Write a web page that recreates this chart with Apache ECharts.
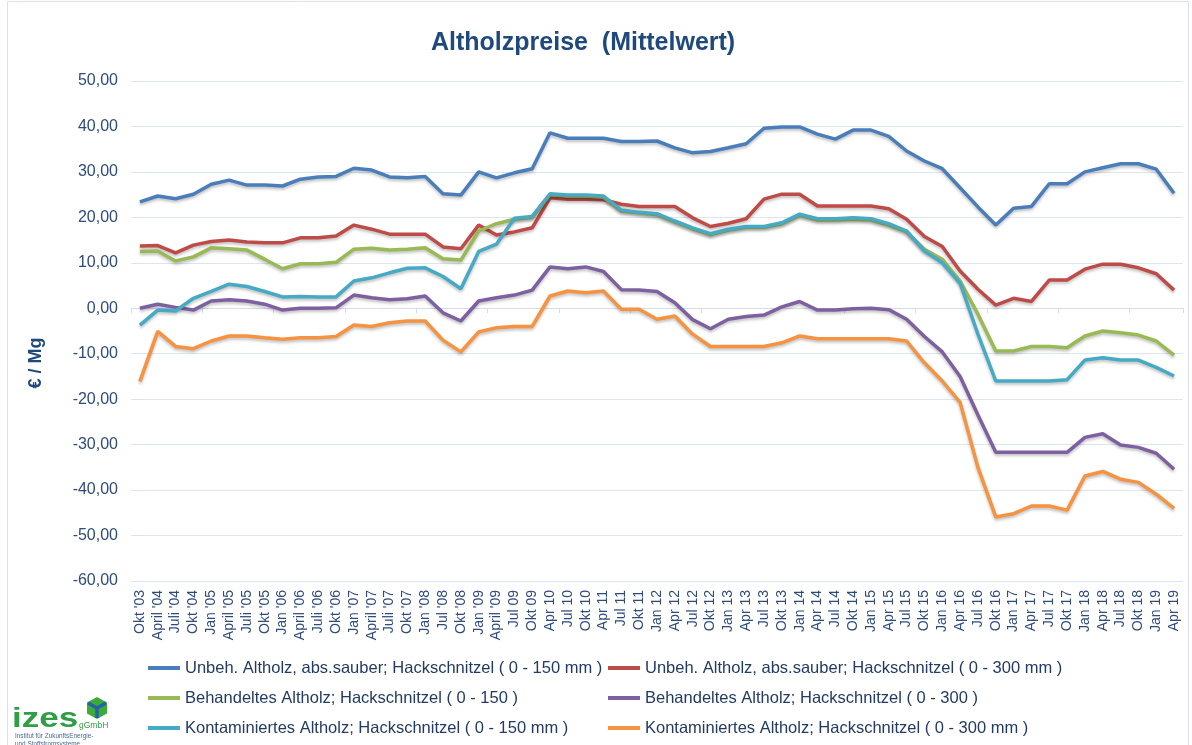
<!DOCTYPE html>
<html>
<head>
<meta charset="utf-8">
<script src="https://cdn.jsdelivr.net/npm/echarts@6.0.0/dist/echarts.min.js"></script>
<style>
  html, body { margin: 0; padding: 0; background: #fff; }
  #chart { width: 1192px; height: 745px; }
</style>
</head>
<body>
<div id="chart"></div>
<script>
// quarterly price points, Okt '03 .. Apr 19
const categories = [
  "Okt '03", "April '04", "Juli '04", "Okt '04", "Jan '05", "April '05", "Juli '05", "Okt '05",
  "Jan '06", "April '06", "Juli '06", "Okt '06", "Jan '07", "April '07", "Juli '07", "Okt '07",
  "Jan '08", "Jul '08", "Okt '08", "Jan '09", "April '09", "Jul 09", "Okt 09", "Apr 10",
  "Jul 10", "Okt 10", "Apr 11", "Jul 11", "Okt 11", "Jan 12", "Apr 12", "Jul 12", "Okt 12",
  "Jan 13", "Apr 13", "Jul 13", "Okt 13", "Jan 14", "Apr 14", "Jul 14", "Okt 14", "Jan 15",
  "Apr 15", "Jul 15", "Okt 15", "Jan 16", "Apr 16", "Jul 16", "Okt 16", "Jan 17", "Apr 17",
  "Jul 17", "Okt 17", "Jan 18", "Apr 18", "Jul 18", "Okt 18", "Jan 19", "Apr 19"
];

const unbeh150 = [
  23.4, 24.7, 24.1, 25.1, 27.3, 28.2, 27.1, 27.1, 26.9, 28.4, 28.9, 29.0, 30.8, 30.4, 28.9,
  28.7, 29.0, 25.2, 24.9, 30.0, 28.7, 29.8, 30.7, 38.6, 37.4, 37.4, 37.4, 36.7, 36.7, 36.8,
  35.3, 34.2, 34.5, 35.3, 36.2, 39.6, 39.9, 39.9, 38.3, 37.2, 39.2, 39.2, 37.8, 34.6, 32.4,
  30.7, 26.5, 22.3, 18.3, 22.0, 22.4, 27.4, 27.4, 30.0, 30.9, 31.8, 31.8, 30.6, 25.3
];
const unbeh300 = [
  13.7, 13.8, 12.2, 13.9, 14.7, 15.0, 14.6, 14.4, 14.4, 15.5, 15.5, 15.9, 18.3, 17.4, 16.3,
  16.3, 16.3, 13.5, 13.1, 18.3, 16.1, 16.8, 17.7, 24.3, 24.0, 24.0, 23.9, 22.9, 22.4, 22.4,
  22.4, 19.9, 18.0, 18.7, 19.7, 24.0, 25.1, 25.1, 22.5, 22.5, 22.5, 22.5, 21.9, 19.6, 15.8,
  13.6, 8.2, 4.2, 0.7, 2.2, 1.5, 6.2, 6.2, 8.6, 9.7, 9.7, 8.9, 7.6, 4.0
];
const behandelt150 = [
  12.5, 12.6, 10.4, 11.3, 13.3, 13.1, 12.8, 10.8, 8.7, 9.8, 9.8, 10.1, 13.0, 13.2, 12.8,
  13.0, 13.3, 10.9, 10.6, 17.0, 18.6, 19.6, 20.0, 25.0, 24.7, 24.7, 24.4, 21.4, 21.0, 20.6,
  19.0, 17.5, 16.2, 17.2, 17.8, 17.8, 18.6, 20.5, 19.4, 19.4, 19.6, 19.4, 18.3, 16.8, 13.0,
  10.8, 6.0, -1.3, -9.4, -9.4, -8.4, -8.4, -8.7, -6.1, -5.0, -5.4, -5.9, -7.2, -10.3
];
const behandelt300 = [
  0.0, 0.9, 0.2, -0.4, 1.6, 1.9, 1.6, 0.9, -0.4, 0.0, 0.0, 0.1, 2.9, 2.3, 1.9,
  2.1, 2.7, -1.0, -2.8, 1.6, 2.3, 2.9, 4.0, 9.1, 8.7, 9.1, 8.1, 4.1, 4.0, 3.7,
  1.2, -2.5, -4.5, -2.4, -1.8, -1.5, 0.3, 1.5, -0.4, -0.4, -0.1, 0.0, -0.3, -2.4, -6.2,
  -9.6, -15.0, -23.5, -31.7, -31.7, -31.7, -31.7, -31.7, -28.4, -27.6, -30.1, -30.6, -31.9, -35.4
];
const kontam150 = [
  -3.7, -0.4, -0.6, 2.2, 3.7, 5.3, 4.8, 3.7, 2.5, 2.6, 2.5, 2.5, 6.0, 6.7, 7.8,
  8.8, 8.9, 7.0, 4.3, 12.5, 14.1, 19.8, 20.2, 25.2, 24.9, 24.9, 24.7, 21.6, 21.1, 20.8,
  19.2, 17.7, 16.4, 17.4, 18.0, 18.0, 18.8, 20.7, 19.7, 19.7, 19.9, 19.7, 18.6, 17.0, 12.6,
  10.0, 5.5, -5.7, -16.0, -16.0, -16.0, -16.0, -15.7, -11.4, -10.9, -11.4, -11.4, -13.0, -14.9
];
const kontam300 = [
  -16.1, -5.1, -8.4, -8.9, -7.2, -6.1, -6.1, -6.5, -6.8, -6.5, -6.5, -6.2, -3.7, -4.0, -3.2,
  -2.8, -2.8, -7.0, -9.6, -5.2, -4.3, -4.0, -4.0, 2.7, 3.8, 3.4, 3.8, -0.2, -0.2, -2.4,
  -1.7, -5.7, -8.4, -8.4, -8.4, -8.4, -7.6, -6.1, -6.7, -6.7, -6.7, -6.7, -6.7, -7.2, -12.0,
  -16.0, -20.7, -35.0, -45.9, -45.2, -43.5, -43.5, -44.4, -36.9, -35.9, -37.6, -38.3, -40.9, -44.0
];

const seriesNames = [
  "Unbeh. Altholz, abs.sauber; Hackschnitzel ( 0 - 150 mm )",
  "Unbeh. Altholz, abs.sauber; Hackschnitzel ( 0 - 300 mm )",
  "Behandeltes Altholz; Hackschnitzel ( 0 - 150 )",
  "Behandeltes Altholz; Hackschnitzel ( 0 - 300 )",
  "Kontaminiertes Altholz; Hackschnitzel ( 0 - 150 mm )",
  "Kontaminiertes Altholz; Hackschnitzel ( 0 - 300 mm )"
];
const seriesData = [unbeh150, unbeh300, behandelt150, behandelt300, kontam150, kontam300];
const COLORS = ["#4a7ebb", "#be4b48", "#98b954", "#7d60a0", "#46aac5", "#f69240"];

const FONT = "Liberation Sans, Arial, sans-serif";
const AXIS_TEXT = "#2f4b7c";
const GRID_LINE = "#dce6f2";

const chart = echarts.init(document.getElementById("chart"), null, { renderer: "canvas" });

// legend icon is a flat bar, like the Excel line sample
const legendCommon = {
  orient: "vertical",
  top: 654,
  icon: "rect",
  itemWidth: 32,
  itemHeight: 4,
  itemGap: 12,
  textStyle: { color: "#233b63", fontSize: 16.5, fontFamily: FONT, lineHeight: 18 },
};

chart.setOption({
  animation: false,
  backgroundColor: "#fff",
  color: COLORS,
  title: {
    text: "Altholzpreise  (Mittelwert)",
    left: 426,
    top: 26,
    textStyle: { color: "#1f497d", fontSize: 25, fontWeight: "bold", fontFamily: FONT },
  },
  legend: [
    { ...legendCommon, left: 143, data: [seriesNames[0], seriesNames[2], seriesNames[4]] },
    { ...legendCommon, left: 603, data: [seriesNames[1], seriesNames[3], seriesNames[5]] },
  ],
  grid: { left: 131, right: 9, top: 81, bottom: 164 },
  xAxis: [
    {
      type: "category",
      data: categories,
      boundaryGap: true,
      axisLine: { show: false, onZero: false },
      axisTick: { show: false },
      axisLabel: {
        rotate: 90,
        interval: 0,
        margin: 9,
        color: AXIS_TEXT,
        fontSize: 14,
        fontFamily: FONT,
      },
    },
    {
      // zero line with tick marks, as the category axis crosses at 0
      type: "category",
      data: categories,
      position: "bottom",
      boundaryGap: true,
      axisLine: { show: true, onZero: true, lineStyle: { color: "#d3ddef", width: 1 } },
      axisTick: { show: true, length: 5, lineStyle: { color: "#d3ddef" } },
      axisLabel: { show: false },
    },
  ],
  yAxis: {
    type: "value",
    min: -60,
    max: 50,
    interval: 10,
    axisLine: { show: false },
    axisTick: { show: false },
    splitLine: { lineStyle: { color: GRID_LINE, width: 1 } },
    axisLabel: {
      margin: 13,
      color: AXIS_TEXT,
      fontSize: 16,
      fontFamily: FONT,
      formatter: (v) => v.toFixed(2).replace(".", ","),
    },
  },
  series: seriesNames.map((name, i) => ({
    name,
    type: "line",
    xAxisIndex: 0,
    data: seriesData[i],
    symbol: "none",
    lineStyle: {
      width: 3.5,
      shadowColor: "rgba(0,0,0,0.25)",
      shadowBlur: 3,
      shadowOffsetY: 2,
    },
  })),
  graphic: [
    {
      type: "rect",
      shape: { x: 7.5, y: 1.5, width: 1181, height: 760 },
      style: { fill: "none", stroke: "#d9e1ec", lineWidth: 1 },
      silent: true,
    },
    {
      type: "text",
      x: 36,
      y: 363,
      rotation: Math.PI / 2,
      style: {
        text: "€ / Mg",
        fill: "#1f497d",
        font: "bold 18px " + FONT,
        align: "center",
        verticalAlign: "middle",
      },
    },
    // izes logo
    {
      type: "polygon",
      shape: { points: [[97, 697], [107, 702.5], [107, 713.5], [97, 719], [87, 713.5], [87, 702.5]] },
      style: { fill: "#3cab3a" },
    },
    {
      type: "polyline",
      shape: { points: [[88, 703], [97, 708], [106, 703]] },
      style: { stroke: "#2563a8", lineWidth: 3.5, fill: "none" },
    },
    {
      type: "line",
      shape: { x1: 97, y1: 708, x2: 97, y2: 718 },
      style: { stroke: "#2563a8", lineWidth: 3.5 },
    },
    {
      type: "text",
      x: 12,
      y: 705,
      scaleX: 1.25,
      style: { text: "izes", fill: "#2f9e44", font: "bold 28px " + FONT },
    },
    {
      type: "text",
      x: 79,
      y: 721,
      style: { text: "gGmbH", fill: "#2f9e44", font: "8.5px " + FONT },
    },
    {
      type: "text",
      x: 15,
      y: 732,
      scaleX: 0.85,
      style: { text: "Institut für ZukunftsEnergie-", fill: "#4a6a96", font: "7.5px " + FONT },
    },
    {
      type: "text",
      x: 15,
      y: 740,
      scaleX: 0.85,
      style: { text: "und Stoffstromsysteme", fill: "#4a6a96", font: "7.5px " + FONT },
    },
  ],
});
</script>
</body>
</html>
